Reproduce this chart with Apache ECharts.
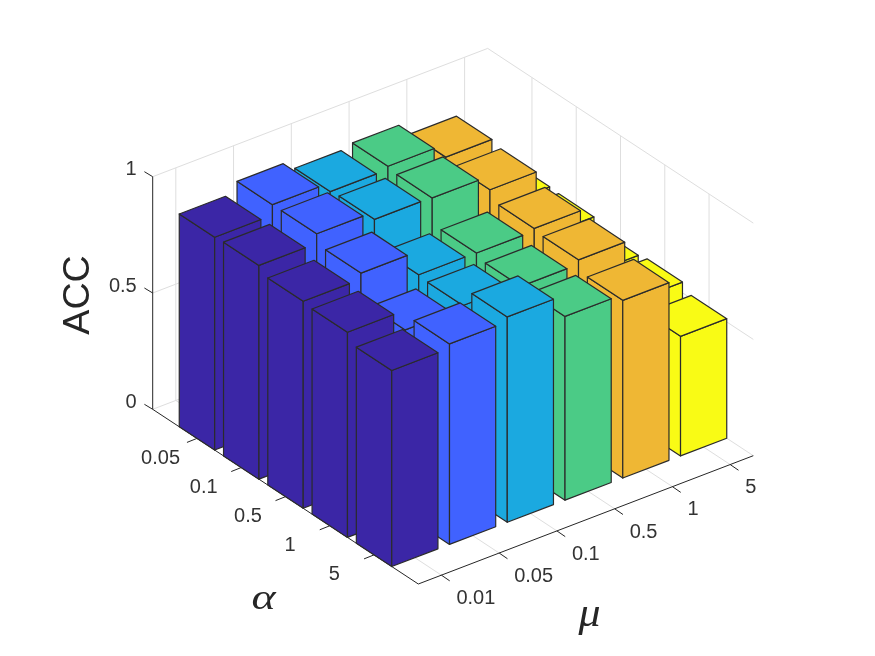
<!DOCTYPE html>
<html>
<head>
<meta charset="utf-8">
<style>html,body{margin:0;padding:0;background:#fff}#c{width:875px;height:656px}</style>
<script src="https://cdn.jsdelivr.net/npm/echarts@6/dist/echarts.min.js"></script>
</head>
<body>
<div id="c"></div>
<script>
const alphaLabels = ['0.05', '0.1', '0.5', '1', '5'];
const muLabels = ['0.01', '0.05', '0.1', '0.5', '1', '5'];
const zTicks = [0, 0.5, 1];
const zTickLabels = ['0', '0.5', '1'];
// ACC per alpha (0.05 .. 5), one list per mu
const accMu001 = [0.915, 0.919, 0.890, 0.882, 0.843];
const accMu005 = [0.960, 0.960, 0.916, 0.797, 0.862];
const accMu01  = [0.921, 0.927, 0.814, 0.807, 0.883];
const accMu05  = [0.935, 0.924, 0.812, 0.794, 0.790];
const accMu1   = [0.879, 0.864, 0.823, 0.813, 0.764];
const accMu5   = [0.580, 0.576, 0.536, 0.546, 0.514];
const accByMu = [accMu001, accMu005, accMu01, accMu05, accMu1, accMu5];
const muColors = ['#3b26a6', '#4062ff', '#1ba9e0', '#4bcb86', '#efb734', '#f9fb15'];

const barHalf = 0.4;
const muRange = [0.6, 6.4], alphaRange = [0, 6];
const floorL = [152.7, 409.3], floorF = [418.3, 584], floorR = [753.3, 455.7], zSpan = 232.6;
const edge = '#2b2b2b', gridCol = '#dedede', axisCol = '#262626', textCol = '#333333';
const tickFont = '20px "Liberation Sans", Arial, sans-serif';

// orthographic projection of (mu, alpha, z) into the plane of the hidden axes
function project(mu, alpha, z) {
  const a = (alpha - alphaRange[0]) / (alphaRange[1] - alphaRange[0]);
  const m = (mu - muRange[0]) / (muRange[1] - muRange[0]);
  return [
    floorL[0] + a * (floorF[0] - floorL[0]) + m * (floorR[0] - floorF[0]),
    floorL[1] + a * (floorF[1] - floorL[1]) + m * (floorR[1] - floorF[1]) - z * zSpan
  ];
}

const barData = [];
alphaLabels.forEach((_, j) => {
  for (let i = muLabels.length - 1; i >= 0; i--) barData.push([i + 1, j + 1, accByMu[i][j]]);
});

function face(api, pts, fill) {
  return {
    type: 'polygon',
    shape: { points: pts.map(p => api.coord(p)) },
    style: { fill: fill, stroke: edge, lineWidth: 1.2, lineJoin: 'round' }
  };
}
function seg(api, a, b, col) {
  const p = api.coord(a), q = api.coord(b);
  return { type: 'line', shape: { x1: p[0], y1: p[1], x2: q[0], y2: q[1] }, style: { stroke: col, lineWidth: 1 } };
}
function label(api, at, dx, dy, str, align) {
  const p = api.coord(at);
  return { type: 'text', x: p[0] + dx, y: p[1] + dy,
    style: { text: str, font: tickFont, fill: textCol, align: align, verticalAlign: 'middle' } };
}

function renderBar(params, api) {
  const mu = api.value(0), al = api.value(1), z = api.value(2);
  const m0 = mu - barHalf, m1 = mu + barHalf, a0 = al - barHalf, a1 = al + barHalf;
  const col = muColors[mu - 1];
  return { type: 'group', children: [
    face(api, [project(m0, a0, 0), project(m0, a1, 0), project(m0, a1, z), project(m0, a0, z)], col),
    face(api, [project(m0, a1, 0), project(m1, a1, 0), project(m1, a1, z), project(m0, a1, z)], col),
    face(api, [project(m0, a0, z), project(m0, a1, z), project(m1, a1, z), project(m1, a0, z)], col)
  ]};
}

function renderGrid(params, api) {
  const [m0, m1] = muRange, [a0, a1] = alphaRange;
  const ch = [];
  zTicks.forEach(z => {
    ch.push(seg(api, project(m0, a0, z), project(m1, a0, z), gridCol));
    ch.push(seg(api, project(m1, a0, z), project(m1, a1, z), gridCol));
  });
  muLabels.forEach((_, i) => {
    const m = i + 1;
    ch.push(seg(api, project(m, a0, 0), project(m, a0, 1), gridCol));
    ch.push(seg(api, project(m, a0, 0), project(m, a1, 0), gridCol));
  });
  alphaLabels.forEach((_, j) => {
    const a = j + 1;
    ch.push(seg(api, project(m1, a, 0), project(m1, a, 1), gridCol));
    ch.push(seg(api, project(m0, a, 0), project(m1, a, 0), gridCol));
  });
  return { type: 'group', children: ch };
}

function renderAxes(params, api) {
  const [m0, m1] = muRange, [a0, a1] = alphaRange;
  const ch = [
    seg(api, project(m0, a0, 0), project(m0, a0, 1), axisCol),
    seg(api, project(m0, a0, 0), project(m0, a1, 0), axisCol),
    seg(api, project(m0, a1, 0), project(m1, a1, 0), axisCol)
  ];
  const add = (v, d) => [v[0] + d[0], v[1] + d[1]];
  zTicks.forEach((z, k) => {
    const p = project(m0, a0, z);
    ch.push(seg(api, p, add(p, [-8.3, -5]), axisCol));
    ch.push(label(api, p, -16, -7, zTickLabels[k], 'right'));
  });
  alphaLabels.forEach((t, j) => {
    const p = project(m0, j + 1, 0);
    ch.push(seg(api, p, add(p, [-10, 4]), axisCol));
    ch.push(label(api, p, -39.7 + 1.1 * (t.length - 1), 20, t, 'center'));
  });
  muLabels.forEach((t, i) => {
    const p = project(i + 1, a1, 0);
    ch.push(seg(api, p, add(p, [8.3, 5.7]), axisCol));
    ch.push(label(api, p, 15, 23.3, t, 'left'));
  });
  return { type: 'group', children: ch };
}

const chart = echarts.init(document.getElementById('c'), null, { renderer: 'canvas' });
chart.setOption({
  animation: false,
  backgroundColor: '#ffffff',
  grid: { left: 0, right: 0, top: 0, bottom: 0 },
  xAxis: { type: 'value', min: 0, max: 875, show: false },
  yAxis: { type: 'value', min: 0, max: 656, inverse: true, show: false },
  series: [
    { type: 'custom', renderItem: renderGrid, data: [[0, 0]], clip: false, silent: true, z: 1 },
    { type: 'custom', renderItem: renderAxes, data: [[0, 0]], clip: false, silent: true, z: 2 },
    { type: 'custom', renderItem: renderBar, data: barData, clip: false, silent: true, z: 3,
      encode: { x: 0, y: 1 } }
  ],
  graphic: [
    { type: 'text', x: 79, y: 295, rotation: Math.PI / 2, z: 5,
      style: { text: 'ACC', font: '37.6px "Liberation Sans", Arial, sans-serif', fill: '#262626', align: 'center', verticalAlign: 'middle' } },
    { type: 'text', x: 263.5, y: 600, z: 5, scaleX: 1.15, scaleY: 0.9,
      style: { text: 'α', font: 'italic 40px "Liberation Serif", serif', fill: '#262626', align: 'center', verticalAlign: 'middle' } },
    { type: 'text', x: 589.5, y: 615, z: 5, scaleX: 1.1,
      style: { text: 'μ', font: 'italic 40px "Liberation Serif", serif', fill: '#262626', align: 'center', verticalAlign: 'middle' } }
  ]
});
</script>
</body>
</html>
